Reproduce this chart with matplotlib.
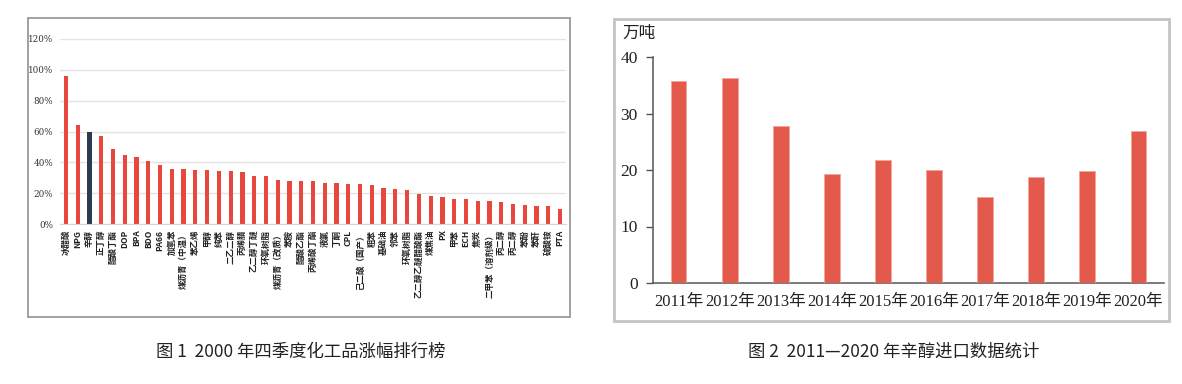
import numpy as np
import matplotlib
matplotlib.use("Agg")
import matplotlib.pyplot as plt
from matplotlib.patches import Rectangle

plt.rcParams['font.family'] = ['Noto Sans CJK SC', 'DejaVu Sans']

# ── Fig 1: chemical price rise ranking, Q4 ───────────────────────────────────
products = ["冰醋酸", "NPG", "辛醇", "正丁醇", "醋酸丁酯", "DOP", "BPA", "BDO",
            "PA66", "加氢苯", "煤沥青（中温）", "苯乙烯", "甲醇", "纯苯", "二乙二醇",
            "丙烯腈", "乙二醇丁醚", "环氧树脂", "煤沥青（改质）", "苯胺", "醋酸乙酯",
            "丙烯酸丁酯", "液氯", "丁酮", "CPL", "己二酸（国产）", "粗苯", "基础油",
            "邻苯", "环氧树脂", "乙二醇乙醚醋酸酯", "煤焦油", "PX", "甲苯", "ECH",
            "焦炭", "二甲苯（溶剂级）", "丙二醇", "丙二醇", "苯酚", "苯酐", "硫酸铵",
            "PTA"]
rise_pct = [95.9, 64.2, 59.6, 57.4, 48.5, 45.0, 43.4, 40.6, 38.0, 35.6, 35.6,
            35.2, 35.2, 34.7, 34.3, 33.8, 31.0, 31.0, 28.8, 28.2, 27.7, 27.7,
            26.6, 26.6, 26.2, 25.8, 25.1, 23.4, 22.7, 22.3, 19.2, 17.9, 17.5,
            16.4, 16.4, 14.8, 14.8, 14.2, 13.1, 12.4, 11.4, 11.4, 9.8]
highlight_idx = 2   # 辛醇
pct_ticks = [0, 20, 40, 60, 80, 100, 120]

# ── Fig 2: octanol imports 2011-2020 ─────────────────────────────────────────
years = ["2011年", "2012年", "2013年", "2014年", "2015年", "2016年", "2017年",
         "2018年", "2019年", "2020年"]
imports_wt = [35.7, 36.2, 27.7, 19.3, 21.8, 20.0, 15.3, 18.7, 19.8, 26.95]

W, H = 1182, 384
fig = plt.figure(figsize=(W / 100, H / 100), dpi=100)


def px(x0, y0, x1, y1):
    return [x0 / W, 1 - y1 / H, (x1 - x0) / W, (y1 - y0) / H]


# panel frames
for (x0, y0, x1, y1), col, lw in [((28, 18, 570, 317), "#9a9a9a", 1.3),
                                   ((614, 19, 1169, 321), "#c4c4c4", 2.0)]:
    fig.patches.append(Rectangle((x0 / W, 1 - y1 / H), (x1 - x0) / W, (y1 - y0) / H,
                                 transform=fig.transFigure, fill=False,
                                 edgecolor=col, lw=lw))

# ── left chart ───────────────────────────────────────────────────────────────
ax1 = fig.add_axes(px(60, 39, 566, 224))
x = np.arange(len(products))
colors = ["#2b3a4c" if i == highlight_idx else "#e8473e" for i in range(len(products))]
ax1.bar(x, rise_pct, width=0.36, color=colors, zorder=3)
ax1.set_xlim(-0.5, len(products) - 0.5)
ax1.set_ylim(0, 120)
ax1.set_yticks(pct_ticks)
ax1.set_yticklabels([f"{t}%" for t in pct_ticks], fontsize=6.3, color="#333333",
                    family=["DejaVu Serif"])
ax1.yaxis.grid(True, color="#e3e3e3", lw=1.0, zorder=0)
ax1.set_xticks(x)
ax1.set_xticklabels(products, rotation=90, fontsize=6.1, color="#222222",
                    va="top", ha="center", fontweight="bold")
ax1.tick_params(axis="both", length=0)
ax1.tick_params(axis="y", pad=5)
ax1.tick_params(axis="x", pad=4)
for s in ["top", "right", "left"]:
    ax1.spines[s].set_visible(False)
ax1.spines["bottom"].set_color("#d6d6d6")
ax1.spines["bottom"].set_zorder(4)

# ── right chart ──────────────────────────────────────────────────────────────
serif = ["Liberation Serif", "Noto Sans CJK SC"]
ax2 = fig.add_axes(px(653, 57, 1164, 283))
xi = np.arange(len(years))
ax2.bar(xi, imports_wt, width=0.31, color="#e35a4c", edgecolor="#f2a49a",
        lw=0.6, zorder=3)
ax2.set_xlim(-0.5, len(years) - 0.5)
ax2.set_ylim(0, 40)
ax2.set_yticks([0, 10, 20, 30, 40])
ax2.set_yticklabels(["0", "10", "20", "30", "40"], fontsize=12.5,
                    family=serif, color="#222222")
ax2.set_xticks(xi)
ax2.set_xticklabels(years, fontsize=12, family=serif, color="#222222")
ax2.tick_params(axis="x", length=0, pad=8)
ax2.tick_params(axis="y", length=5, width=1, color="#555555", pad=6)
for s in ["top", "right"]:
    ax2.spines[s].set_visible(False)
for s in ["left", "bottom"]:
    ax2.spines[s].set_color("#555555")
    ax2.spines[s].set_linewidth(1.1)
fig.text(622 / W, 1 - 33 / H, "万吨", fontsize=12, va="center", ha="left",
         color="#222222")

# ── captions ─────────────────────────────────────────────────────────────────
fig.text(301 / W, 1 - 352 / H, "图 1  2000 年四季度化工品涨幅排行榜", fontsize=12.5,
         ha="center", va="center", color="#222222")
fig.text(894 / W, 1 - 352 / H, "图 2  2011—2020 年辛醇进口数据统计", fontsize=12.5,
         ha="center", va="center", color="#222222")

fig.savefig("out.png", dpi=100)
